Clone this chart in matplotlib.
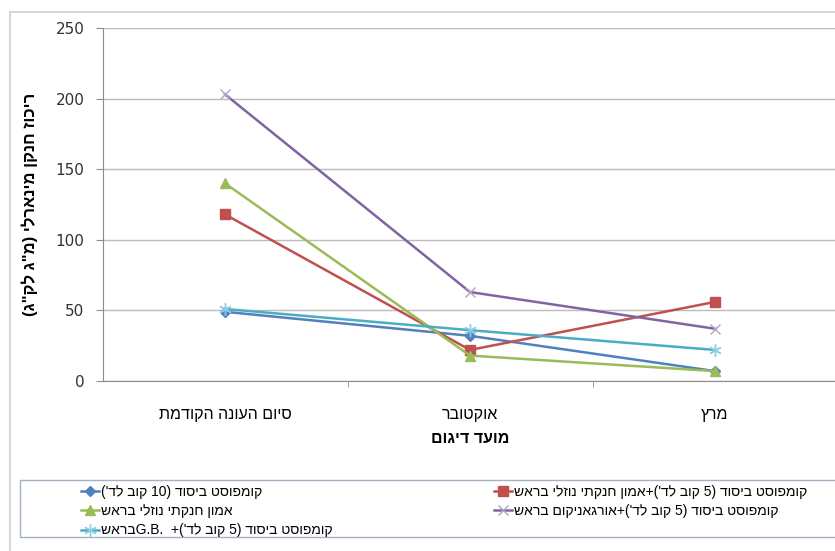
import re
import matplotlib
matplotlib.use("Agg")
import matplotlib.pyplot as plt
from matplotlib.patches import Rectangle


def rtl(s):
    # matplotlib has no bidi support: lay Hebrew out in visual order by hand
    r = s[::-1]
    r = re.sub(r"[A-Za-z0-9.]+", lambda m: m.group(0)[::-1], r)
    mirror = {"(": ")", ")": "("}
    return "".join(mirror.get(c, c) for c in r)


# sampling dates
dates = ["סיום העונה הקודמת", "אוקטובר", "מרץ"]

# mineral nitrogen, mg/kg
compost10 = [49, 32, 7]
compost5_ammonium = [118, 22, 56]
ammonium = [140, 18, 7]
compost5_organicum = [203, 63, 37]
compost5_gb = [51, 36, 22]

labels = [
    "קומפוסט ביסוד (10 קוב לד')",
    "קומפוסט ביסוד (5 קוב לד')+אמון חנקתי נוזלי בראש",
    "אמון חנקתי נוזלי בראש",
    "קומפוסט ביסוד (5 קוב לד')+אורגאניקום בראש",
    "קומפוסט ביסוד (5 קוב לד')+  G.B.בראש",
]

ylabel = 'ריכוז חנקן מינארלי (מ"ג לק"ג)'
xlabel = "מועד דיגום"

heb = ["Liberation Sans", "DejaVu Sans"]

W, H = 835, 551
fig = plt.figure(figsize=(W / 100, H / 100), dpi=100)

# outer chart border
fig.patches.append(Rectangle((10 / W, -0.05), 1.1, 1 - 12 / H + 0.05,
                             transform=fig.transFigure, fill=False,
                             edgecolor="#d0d0d0", lw=1.2))

ax = fig.add_axes([102.5 / W, 1 - 381 / H, 735 / W, 353 / H])

x = range(len(dates))
series = [
    (compost10, "#4F81BD", "D", 5.5, "#4F81BD"),
    (compost5_ammonium, "#C0504D", "s", 6.5, "#C0504D"),
    (ammonium, "#9BBB59", "^", 6.5, "#9BBB59"),
    (compost5_organicum, "#8064A2", "x", 7.5, "#b0a4c4"),
    (compost5_gb, "#4BACC6", (6, 2, 0), 9, "#8ccfe0"),
]
lines = []
for (vals, color, marker, ms, mcolor), lab in zip(series, labels):
    ln, = ax.plot(x, vals, color=color, lw=1.8, marker=marker, ms=ms,
                  mfc=mcolor, mec=mcolor, mew=1.0, label=rtl(lab))
    lines.append(ln)

ax.set_xlim(-0.5, 2.5)
ax.set_ylim(0, 250)
ax.set_yticks([0, 50, 100, 150, 200, 250])
ax.yaxis.grid(True, color="#bcbcbc", lw=1.0)
ax.set_axisbelow(True)
ax.set_xticks([0, 1, 2])
ax.set_xticklabels([rtl(d) for d in dates], family=heb, fontsize=11.5)
ax.set_xticks([0.5, 1.5, 2.5], minor=True)
ax.tick_params(axis="x", which="major", length=0, pad=19)
ax.tick_params(axis="x", which="minor", length=4, color="#8c8c8c")
ax.tick_params(axis="y", length=5, color="#8c8c8c", pad=8, labelsize=11,
               labelcolor="#333333")
for side in ["top", "right"]:
    ax.spines[side].set_visible(False)
for side in ["left", "bottom"]:
    ax.spines[side].set_color("#8c8c8c")

ax.set_xlabel(rtl(xlabel), family=heb, fontsize=11.5, fontweight="bold",
              labelpad=6)
ax.set_ylabel(rtl(ylabel), family=heb, fontsize=12, fontweight="bold",
              labelpad=13)

# legend frame and two columns of entries
fig.patches.append(Rectangle((20 / W, 1 - 537 / H), 1.0, 57 / H,
                             transform=fig.transFigure, fill=False,
                             edgecolor="#a3b3c6", lw=1.0))
leg_kw = dict(loc="upper left", frameon=False, handlelength=1.3,
              handletextpad=0.1, labelspacing=0.37, borderpad=0.3,
              prop={"family": heb, "size": 10})
fig.legend(handles=[lines[0], lines[2], lines[4]],
           bbox_to_anchor=(70 / W, 1 - 474 / H), **leg_kw)
fig.legend(handles=[lines[1], lines[3]],
           bbox_to_anchor=(483 / W, 1 - 474 / H), **leg_kw)

fig.savefig("out.png", dpi=100)
